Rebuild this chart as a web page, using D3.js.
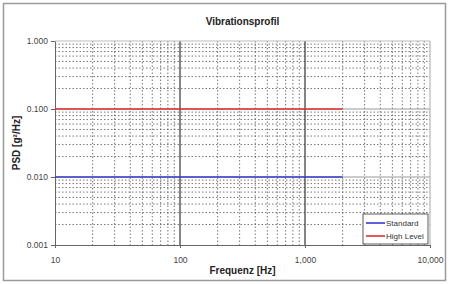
<!DOCTYPE html>
<html>
<head>
<meta charset="utf-8">
<script src="https://cdn.jsdelivr.net/npm/d3@7"></script>
<style>
  body { margin: 0; background: #fff; }
  svg { display: block; font-family: "Liberation Sans", Arial, sans-serif; }
</style>
</head>
<body>
<svg id="chart" width="449" height="284"></svg>
<script>
/* chart data */
var seriesNames = ["Standard", "High Level"],
    seriesColors = ["#3a3acc", "#e03030"],
    freqs = [10, 2000],
    standardPsd = [0.01, 0.01],
    highPsd = [0.1, 0.1],
    xTicks = [10, 100, 1000, 10000],
    xTickLabels = ["10", "100", "1,000", "10,000"],
    yTicks = [0.001, 0.01, 0.1, 1],
    yTickLabels = ["0.001", "0.010", "0.100", "1.000"];

var svg = d3.select("#chart"),
    W = 449, H = 284,
    m = { left: 55, right: 19, top: 41, bottom: 39 },
    x = d3.scaleLog().domain([10, 10000]).range([m.left, W - m.right]),
    y = d3.scaleLog().domain([0.001, 1]).range([H - m.bottom, m.top]);

/* outer frame */
svg.append("rect")
    .attr("x", 3.5).attr("y", 3.5).attr("width", W - 7).attr("height", H - 7)
    .attr("fill", "#fff").attr("stroke", "#9a9a9a").attr("stroke-width", 1.5);

/* minor values: 2..9 per decade */
var minorX = [], minorY = [];
[10, 100, 1000].forEach(function(d) { for (var k = 2; k < 10; k++) minorX.push(d * k); });
[0.001, 0.01, 0.1].forEach(function(d) { for (var k = 2; k < 10; k++) minorY.push(d * k); });

var grid = svg.append("g");

grid.selectAll(".hmin").data(minorY).enter().append("line")
    .attr("x1", m.left).attr("x2", W - m.right)
    .attr("y1", function(d){ return y(d); }).attr("y2", function(d){ return y(d); })
    .attr("stroke", "#555").attr("stroke-width", 0.8).attr("stroke-dasharray", "1.5,2");

grid.selectAll(".vmin").data(minorX).enter().append("line")
    .attr("y1", m.top).attr("y2", H - m.bottom)
    .attr("x1", function(d){ return x(d); }).attr("x2", function(d){ return x(d); })
    .attr("stroke", "#555").attr("stroke-width", 0.8).attr("stroke-dasharray", "1.5,2");

grid.selectAll(".hmaj").data(yTicks.slice(1, 3)).enter().append("line")
    .attr("x1", m.left).attr("x2", W - m.right)
    .attr("y1", function(d){ return y(d); }).attr("y2", function(d){ return y(d); })
    .attr("stroke", "#999").attr("stroke-width", 1);

grid.selectAll(".vmaj").data(xTicks.slice(1, 3)).enter().append("line")
    .attr("y1", m.top).attr("y2", H - m.bottom)
    .attr("x1", function(d){ return x(d); }).attr("x2", function(d){ return x(d); })
    .attr("stroke", "#333").attr("stroke-width", 1.2);

/* axes */
var xAxis = svg.append("g")
    .attr("transform", "translate(0," + (H - m.bottom) + ")")
    .call(d3.axisBottom(x).tickValues(xTicks).tickSize(3).tickPadding(9)
        .tickFormat(function(d, i){ return xTickLabels[i]; }));
var yAxis = svg.append("g")
    .attr("transform", "translate(" + m.left + ",0)")
    .call(d3.axisLeft(y).tickValues(yTicks).tickSize(4).tickPadding(3)
        .tickFormat(function(d, i){ return yTickLabels[i]; }));

[xAxis, yAxis].forEach(function(a) {
    a.select(".domain").attr("stroke", "#666");
    a.selectAll(".tick line").attr("stroke", "#666");
    a.selectAll("text").attr("fill", "#444").attr("font-size", 8.5)
        .attr("font-family", "Liberation Sans, Arial, sans-serif");
});

/* right and top border */
svg.append("line")
    .attr("x1", W - m.right).attr("x2", W - m.right)
    .attr("y1", m.top).attr("y2", H - m.bottom)
    .attr("stroke", "#aaa");
svg.append("line")
    .attr("x1", m.left).attr("x2", W - m.right)
    .attr("y1", m.top).attr("y2", m.top)
    .attr("stroke", "#bbb");

/* series */
var line = d3.line().x(function(d){ return x(d[0]); }).y(function(d){ return y(d[1]); });
[standardPsd, highPsd].forEach(function(vals, i) {
    svg.append("path")
        .datum(freqs.map(function(f, j){ return [f, vals[j]]; }))
        .attr("d", line).attr("fill", "none")
        .attr("stroke", seriesColors[i]).attr("stroke-width", 1.6);
});

/* titles */
svg.append("text").attr("x", (m.left + W - m.right) / 2).attr("y", 25)
    .attr("text-anchor", "middle").attr("font-size", 10).attr("font-weight", "bold")
    .attr("fill", "#222").text("Vibrationsprofil");
svg.append("text").attr("x", (m.left + W - m.right) / 2).attr("y", 274)
    .attr("text-anchor", "middle").attr("font-size", 10).attr("font-weight", "bold")
    .attr("fill", "#222").text("Frequenz [Hz]");
svg.append("text")
    .attr("transform", "translate(20," + ((m.top + H - m.bottom) / 2) + ") rotate(-90)")
    .attr("text-anchor", "middle").attr("font-size", 10).attr("font-weight", "bold")
    .attr("fill", "#222").text("PSD [g²/Hz]");

/* legend */
var lg = svg.append("g").attr("transform", "translate(363,214)");
lg.append("rect").attr("width", 65).attr("height", 30)
    .attr("fill", "#fff").attr("stroke", "#333").attr("stroke-width", 0.8);
seriesNames.forEach(function(n, i) {
    var yy = 9 + i * 13;
    lg.append("line").attr("x1", 3).attr("x2", 22).attr("y1", yy).attr("y2", yy)
        .attr("stroke", seriesColors[i]).attr("stroke-width", 1.6);
    lg.append("text").attr("x", 23).attr("y", yy + 3)
        .attr("font-size", 8).attr("fill", "#333").text(n);
});
</script>
</body>
</html>
